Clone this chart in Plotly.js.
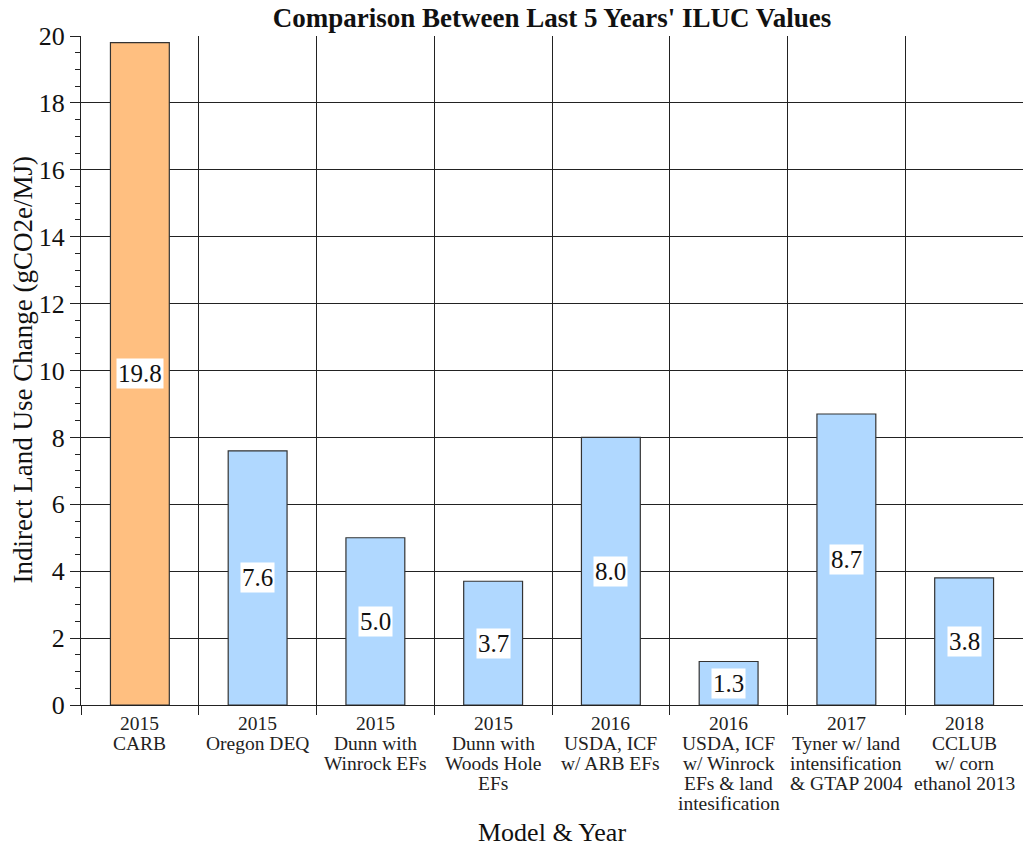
<!DOCTYPE html>
<html>
<head>
<meta charset="utf-8">
<script src="https://cdn.plot.ly/plotly-3.0.1.min.js"></script>
<style>html,body{margin:0;padding:0;background:#fff;}#chart{width:1023px;height:846px;}</style>
</head>
<body>
<div id="chart"></div>
<script>
var categories = [
  "2015<br>CARB",
  "2015<br>Oregon DEQ",
  "2015<br>Dunn with<br>Winrock EFs",
  "2015<br>Dunn with<br>Woods Hole<br>EFs",
  "2016<br>USDA, ICF<br>w/ ARB EFs",
  "2016<br>USDA, ICF<br>w/ Winrock<br>EFs &amp; land<br>intesification",
  "2017<br>Tyner w/ land<br>intensification<br>&amp; GTAP 2004",
  "2018<br>CCLUB<br>w/ corn<br>ethanol 2013"
];
var values = [19.8, 7.6, 5.0, 3.7, 8.0, 1.3, 8.7, 3.8];
var barColors = ["#FFBF80", "#B0D8FF", "#B0D8FF", "#B0D8FF", "#B0D8FF", "#B0D8FF", "#B0D8FF", "#B0D8FF"];
var chartTitle = "Comparison Between Last 5 Years' ILUC Values";
var xTitle = "Model &amp; Year";
var yTitle = "Indirect Land Use Change (gCO2e/MJ)";

var FONT = "Liberation Serif, Times New Roman, serif";
var keys = categories.map(function (c, i) { return "c" + i; });

var trace = {
  type: "bar",
  x: keys,
  y: values,
  width: 0.5,
  marker: { color: barColors, line: { color: "#333", width: 1.2 } },
  hoverinfo: "none"
};

var annotations = [];
// value labels at mid-height of each bar
values.forEach(function (v, i) {
  annotations.push({
    x: keys[i], y: v / 2, xref: "x", yref: "y",
    text: v.toFixed(1), showarrow: false,
    bgcolor: "#fff", borderpad: 1,
    font: { family: FONT, size: 25, color: "#111" }
  });
});
// category labels, line by line
categories.forEach(function (c, i) {
  c.split("<br>").forEach(function (line, j) {
    annotations.push({
      x: keys[i], y: 0, xref: "x", yref: "paper",
      yanchor: "top", yshift: -6 - j * 20,
      text: line, showarrow: false,
      font: { family: FONT, size: 19.5, color: "#222" }
    });
  });
});
// axis titles
annotations.push({
  x: 0.5, y: 0, xref: "paper", yref: "paper", yanchor: "middle", yshift: -127,
  text: xTitle, showarrow: false,
  font: { family: FONT, size: 26, color: "#111" }
});
annotations.push({
  x: 0, y: 0.5, xref: "paper", yref: "paper", xanchor: "center", xshift: -59,
  textangle: -90, text: yTitle, showarrow: false,
  font: { family: FONT, size: 27, color: "#111" }
});

var layout = {
  width: 1023, height: 846,
  margin: { l: 81, r: 0, t: 36, b: 141 },
  paper_bgcolor: "#fff", plot_bgcolor: "#fff",
  showlegend: false,
  font: { family: FONT, color: "#111" },
  title: {
    text: "<b>" + chartTitle + "</b>",
    font: { family: FONT, size: 27, color: "#111" },
    x: 0.5, xref: "paper", y: 0.979, yanchor: "middle"
  },
  xaxis: {
    type: "category",
    tickson: "boundaries",
    ticks: "outside", ticklen: 9, tickcolor: "#222", tickwidth: 1,
    showticklabels: false,
    showgrid: true, gridcolor: "#222", gridwidth: 1,
    showline: true, linecolor: "#222", linewidth: 1,
    range: [-0.5, 7.5],
    automargin: false
  },
  yaxis: {
    range: [0, 20], dtick: 2, tick0: 0,
    ticks: "outside", ticklen: 10, tickcolor: "#222", tickwidth: 1,
    minor: { dtick: 0.5, ticks: "outside", ticklen: 5, tickcolor: "#222", showgrid: false },
    showgrid: true, gridcolor: "#222", gridwidth: 1,
    zeroline: false,
    showline: true, linecolor: "#222", linewidth: 1,
    tickfont: { family: FONT, size: 26, color: "#111" },
    automargin: false
  },
  annotations: annotations
};

Plotly.newPlot("chart", [trace], layout, { displayModeBar: false, staticPlot: true });
</script>
</body>
</html>
